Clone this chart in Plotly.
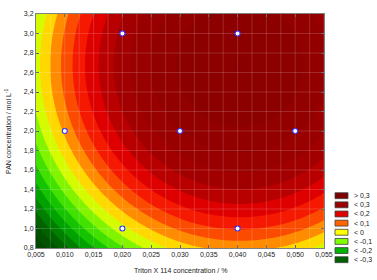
import numpy as np
import plotly.graph_objects as go

triton = [0.01, 0.02, 0.02, 0.03, 0.04, 0.04, 0.05]
pan = [2.0, 3.0, 1.0, 2.0, 3.0, 1.0, 2.0]
response = [0.010, 0.265, -0.069, 0.349, 0.438, 0.104, 0.356]

# legend classes
legend_labels = ["> 0,3", "< 0,3", "< 0,2", "< 0,1", "< 0", "< -0,1", "< -0,2", "< -0,3"]
legend_colors = ["#7d0000", "#990000", "#e00000", "#ff6400", "#ffff00", "#80ff00", "#00b400", "#006000"]

x_range = [0.005, 0.055]
y_range = [0.8, 3.2]

# quadratic response surface fitted to the design points
tx = np.array(triton); py = np.array(pan); rz = np.array(response)
u = (tx - 0.03) / 0.02
v = (py - 2.0) / 1.0
A = np.column_stack([np.ones_like(u), u, v, u * u, v * v, u * v])
coef, *_ = np.linalg.lstsq(A, rz, rcond=None)

gx = np.linspace(x_range[0], x_range[1], 241)
gy = np.linspace(y_range[0], y_range[1], 241)
GX, GY = np.meshgrid(gx, gy)
GU = (GX - 0.03) / 0.02
GV = (GY - 2.0) / 1.0
Z = (coef[0] + coef[1] * GU + coef[2] * GV + coef[3] * GU ** 2
     + coef[4] * GV ** 2 + coef[5] * GU * GV)

zmin, zmax = -0.45, 0.45
anchors = [(-0.45, "#004800"), (-0.35, "#006c00"), (-0.25, "#00b400"),
           (-0.15, "#58f000"), (-0.05, "#ffff00"), (0.05, "#ff6400"),
           (0.15, "#f00000"), (0.25, "#a60000"), (0.35, "#940000"), (0.45, "#8a0000")]
colorscale = [[(z - zmin) / (zmax - zmin), c] for z, c in anchors]

fig = go.Figure()
fig.add_trace(go.Contour(
    x=gx, y=gy, z=Z, zmin=zmin, zmax=zmax, zauto=False,
    colorscale=colorscale, showscale=False,
    contours=dict(start=-0.45, end=0.45, size=0.05, coloring="fill"),
    line=dict(width=0), hoverinfo="skip"))

fig.add_trace(go.Scatter(
    x=triton, y=pan, mode="markers",
    marker=dict(symbol="circle", size=5, color="white",
                line=dict(color="#2a2aff", width=1.1)),
    showlegend=False, hoverinfo="skip"))

W, H = 377, 280
ml, mr, mt, mb = 36, 53, 10, 32
pw, ph = W - ml - mr, H - mt - mb

def px2x(p):
    return (p - ml) / pw

def px2y(p):
    return (H - mb - p) / ph

shapes = []
# faint grid overlay
for xv in np.arange(0.0075, 0.0551, 0.0025):
    shapes.append(dict(type="line", xref="x", yref="y", x0=xv, x1=xv,
                       y0=y_range[0], y1=y_range[1], layer="above",
                       line=dict(color="rgba(255,255,255,0.16)", width=1)))
for yv in np.arange(1.0, 3.19, 0.2):
    shapes.append(dict(type="line", xref="x", yref="y", x0=x_range[0], x1=x_range[1],
                       y0=yv, y1=yv, layer="above",
                       line=dict(color="rgba(255,255,255,0.16)", width=1)))

annotations = []
for i, (lab, col) in enumerate(zip(legend_labels, legend_colors)):
    cy = 194.8 + i * 9.3
    shapes.append(dict(type="rect", xref="paper", yref="paper",
                       x0=px2x(335), x1=px2x(348), y0=px2y(cy + 3), y1=px2y(cy - 3),
                       fillcolor=col, line=dict(color="#404040", width=0.8)))
    annotations.append(dict(text=lab, xref="paper", yref="paper", x=px2x(351.5),
                            y=px2y(cy), xanchor="left", yanchor="middle",
                            showarrow=False, font=dict(size=7, color="#222")))

annotations.append(dict(text="Triton X 114 concentration / %", xref="paper", yref="paper",
                        x=px2x(180), y=px2y(270.5), xanchor="center", yanchor="middle",
                        showarrow=False, font=dict(size=7, color="#222")))
annotations.append(dict(text="PAN concentration / mol L<sup>-1</sup>", xref="paper", yref="paper",
                        x=px2x(8), y=px2y(130), xanchor="center", yanchor="middle",
                        textangle=-90, showarrow=False, font=dict(size=7, color="#222")))

axis_common = dict(showgrid=False, zeroline=False, showline=True, linecolor="#808080",
                   linewidth=1, mirror="ticks", ticks="inside", ticklen=3,
                   tickcolor="#555", tickfont=dict(size=7, color="#222"))

fig.update_layout(
    width=W, height=H, margin=dict(l=ml, r=mr, t=mt, b=mb),
    paper_bgcolor="white", plot_bgcolor="white",
    font=dict(family="Liberation Sans, Arial, sans-serif"),
    separators=",.",
    xaxis=dict(range=x_range, tick0=0.005, dtick=0.005, tickformat=".3f", **axis_common),
    yaxis=dict(range=y_range, tick0=0.8, dtick=0.2, tickformat=".1f", **axis_common),
    shapes=shapes, annotations=annotations, showlegend=False)

fig.write_html("out.html", config={"displayModeBar": False},
               post_script="document.body.style.margin='0';document.body.style.overflow='hidden';")
